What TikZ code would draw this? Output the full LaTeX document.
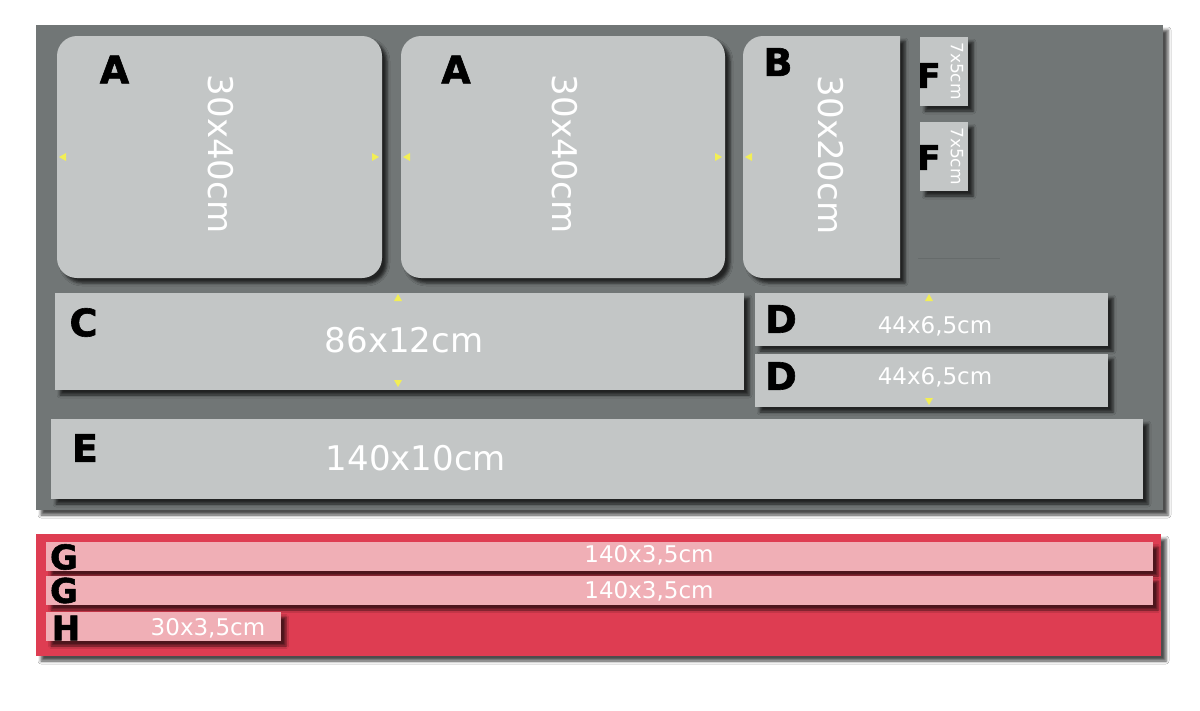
\documentclass[tikz,border=0pt]{standalone}
\usepackage{fontspec}
\setmainfont{DejaVu Sans}
\newfontfamily\heavyfont[FakeBold=1.6]{DejaVu Sans Bold}
\usetikzlibrary{shadows.blur,calc}
\definecolor{panelgray}{HTML}{717676}
\definecolor{cardgray}{HTML}{C3C6C6}
\definecolor{redpanel}{HTML}{DE3D52}
\definecolor{pinkcard}{HTML}{F0AFB6}
\definecolor{markyellow}{HTML}{F2EE55}
\begin{document}
\begin{tikzpicture}[x=1pt,y=-1pt,
  panelbox/.style={inner sep=0pt, outer sep=0pt, anchor=north west,
    blur shadow={shadow xshift=5pt, shadow yshift=-5pt, shadow blur radius=3pt, shadow opacity=70}},
  cardbox/.style={fill=cardgray, inner sep=0pt, outer sep=0pt, anchor=north west,
    blur shadow={shadow xshift=5pt, shadow yshift=-5pt, shadow blur radius=3pt, shadow opacity=70}},
  pinkbox/.style={fill=pinkcard, inner sep=0pt, outer sep=0pt, anchor=north west,
    blur shadow={shadow xshift=5pt, shadow yshift=-5pt, shadow blur radius=2.5pt, shadow opacity=65}},
  letter/.style={font=\heavyfont\fontsize{38}{40}\selectfont, text=black, inner sep=0pt},
  smallletter/.style={font=\heavyfont\fontsize{34}{36}\selectfont, text=black, inner sep=0pt},
  sizebig/.style={font=\fontsize{34}{38}\selectfont, text=white, inner sep=0pt, text depth=0pt},
  sizemid/.style={font=\fontsize{23}{26}\selectfont, text=white, inner sep=0pt, text depth=0pt},
  sizesmall/.style={font=\fontsize{17}{19}\selectfont, text=white, inner sep=0pt, text depth=0pt},
  tri/.style={fill=markyellow}
]
\useasboundingbox (0,0) rectangle (1200,710);
\fill[white] (0,0) rectangle (1200,710);

% panels
\node[panelbox, fill=panelgray, minimum width=1127, minimum height=485] (panel) at (36,25) {};
\node[panelbox, fill=redpanel, minimum width=1125, minimum height=122] (redp) at (36,534) {};

% faint line
\draw[panelgray!85!black, line width=0.8pt, opacity=0.6] (918,258) -- (1000,258);

% cards
\node[cardbox, rounded corners=20pt, minimum width=325, minimum height=242] (a1) at (57,36) {};
\node[cardbox, rounded corners=20pt, minimum width=324, minimum height=242] (a2) at (401,36) {};
\node[inner sep=0pt, outer sep=0pt, anchor=north west, minimum width=157, minimum height=242] (b) at (743,36) {};
\fill[cardgray, blur shadow={shadow xshift=5pt, shadow yshift=-5pt, shadow blur radius=3pt, shadow opacity=70}]
  (b.north east) -- ($(b.north west)+(20,0)$)
  .. controls ($(b.north west)+(8.95,0)$) and ($(b.north west)+(0,8.95)$) .. ($(b.north west)+(0,20)$)
  -- ($(b.south west)+(0,-20)$)
  .. controls ($(b.south west)+(0,-8.95)$) and ($(b.south west)+(8.95,0)$) .. ($(b.south west)+(20,0)$)
  -- (b.south east) -- cycle;
\node[cardbox, minimum width=48, minimum height=69] (f1) at (920,37) {};
\node[cardbox, minimum width=48, minimum height=69] (f2) at (920,122) {};
\node[cardbox, minimum width=689, minimum height=97] (c) at (55,293) {};
\node[cardbox, minimum width=353, minimum height=53] (d1) at (755,293) {};
\node[cardbox, minimum width=353, minimum height=53] (d2) at (755,354) {};
\node[cardbox, minimum width=1092, minimum height=80] (e) at (51,419) {};

\node[pinkbox, minimum width=1107, minimum height=29] (g1) at (46,542) {};
\node[pinkbox, minimum width=1107, minimum height=29] (g2) at (46,576) {};
\node[pinkbox, minimum width=235, minimum height=29] (h) at (46,612) {};

% yellow markers
\fill[tri] ($(a1.west)+(2,0)$) -- ++(7,-4) -- ++(0,8) -- cycle;
\fill[tri] ($(a1.east)+(-3,0)$) -- ++(-7,-4) -- ++(0,8) -- cycle;
\fill[tri] ($(a2.west)+(2,0)$) -- ++(7,-4) -- ++(0,8) -- cycle;
\fill[tri] ($(a2.east)+(-3,0)$) -- ++(-7,-4) -- ++(0,8) -- cycle;
\fill[tri] ($(b.west)+(2,0)$) -- ++(7,-4) -- ++(0,8) -- cycle;
\fill[tri] ($(c.north)+(-1.5,1)$) -- ++(-4,7) -- ++(8,0) -- cycle;
\fill[tri] ($(c.south)+(-1.5,-3)$) -- ++(-4,-7) -- ++(8,0) -- cycle;
\fill[tri] ($(d1.north)+(-2.5,1)$) -- ++(-4,7) -- ++(8,0) -- cycle;
\fill[tri] ($(d2.south)+(-2.5,-2)$) -- ++(-4,-7) -- ++(8,0) -- cycle;

% letters
\node[letter] (la1) at (114.5,69.5) {A};
\node[letter] (la2) at (456,69.5) {A};
\node[letter] (lb) at (778,62) {B};
\node[smallletter] (lf1) at (929,75.5) {F};
\node[smallletter] (lf2) at (929,157.5) {F};
\node[letter] (lc) at (83.5,322.5) {C};
\node[letter] (ld1) at (781,319) {D};
\node[letter] (ld2) at (781,376) {D};
\node[letter] (le) at (85,448) {E};
\node[smallletter] (lg1) at (64,557) {G};
\node[smallletter] (lg2) at (64,590.5) {G};
\node[smallletter] (lh) at (66,628) {H};

% sizes
\node[sizebig, rotate=-90] (ta1) at (221,154) {30x40cm};
\node[sizebig, rotate=-90] (ta2) at (565,154) {30x40cm};
\node[sizebig, rotate=-90] (tb) at (831,155) {30x20cm};
\node[sizesmall, rotate=-90] (tf1) at (957,71) {7x5cm};
\node[sizesmall, rotate=-90] (tf2) at (957,156) {7x5cm};
\node[sizebig] (tc) at (404,340) {86x12cm};
\node[sizemid] (td1) at (935,325) {44x6,5cm};
\node[sizemid] (td2) at (935,376) {44x6,5cm};
\node[sizebig] (te) at (416,458) {140x10cm};
\node[sizemid] (tg1) at (649,554) {140x3,5cm};
\node[sizemid] (tg2) at (649,590) {140x3,5cm};
\node[sizemid] (th) at (208,627) {30x3,5cm};
\end{tikzpicture}
\end{document}
